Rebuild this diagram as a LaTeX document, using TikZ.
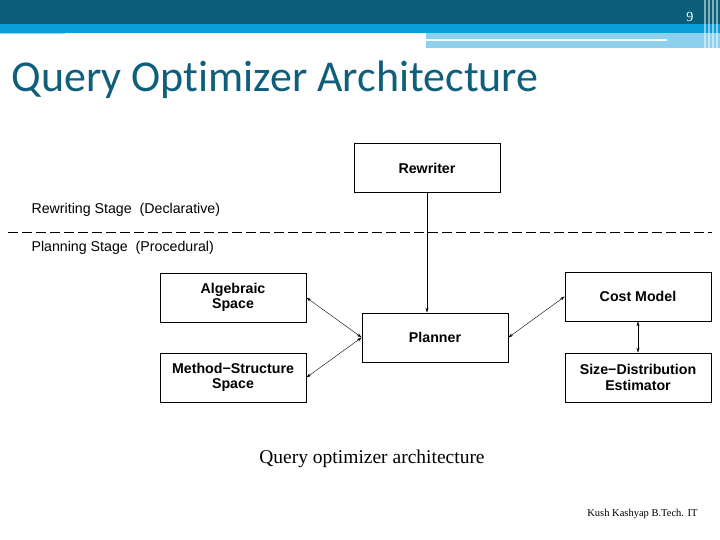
\documentclass[tikz,border=0pt]{standalone}
\usepackage{fontspec}
\usetikzlibrary{arrows.meta}
\setmainfont{Liberation Sans}
\newfontfamily\titlefont[RawFeature=-liga]{Carlito}
\newfontfamily\seriffont{Liberation Serif}
\definecolor{dark}{HTML}{0B5E79}
\definecolor{bright}{HTML}{0C9ED8}
\definecolor{light}{HTML}{8DD0EE}
\definecolor{ttl}{HTML}{0F5F7C}
\begin{document}
\begin{tikzpicture}[x=1pt,y=-1pt,
  box/.style={draw,line width=0.6pt,minimum width=146pt,minimum height=49pt,align=center,font=\bfseries\fontsize{14.2}{15.5}\selectfont,inner sep=0pt},
  arr/.style={{Stealth[length=5pt,width=3pt]}-{Stealth[length=5pt,width=3pt]},line width=0.4pt},
  lbl/.style={anchor=west,font=\fontsize{14.2}{15}\selectfont}]
\useasboundingbox (0,0) rectangle (720,540);
\fill[white] (0,0) rectangle (720,540);
% header
\fill[light] (426,33) rectangle (720,48);
\fill[white] (426,39) rectangle (667,41);
\fill[bright] (0,24) rectangle (720,33);
\fill[dark] (0,0) rectangle (720,24);
\fill[light] (0,33) rectangle (65,34);
\foreach \xx in {704,708,712,716}{\fill[white,opacity=0.5] (\xx,0) rectangle (\xx+1.5,48);}
\node[anchor=east,text=white,font=\seriffont\fontsize{14}{15}\selectfont] (pg) at (697,17) {9};
\node[anchor=west,text=ttl,font=\titlefont\fontsize{44}{46}\selectfont] (title) at (8,80) {Query Optimizer Architecture};
% diagram
\node[box] (rw) at (427,168) {Rewriter};
\node[box] (alg) at (233,297.5) {Algebraic\\Space};
\node[box] (ms) at (233,377.5) {Method\textminus Structure\\Space};
\node[box] (pl) at (435,337.5) {Planner};
\node[box] (cm) at (638,296.5) {Cost Model};
\node[box] (sd) at (638,377.5) {Size\textminus Distribution\\Estimator};
\node[lbl] (l1) at (28,210) {Rewriting Stage\ \ (Declarative)};
\node[lbl] (l2) at (28,248) {Planning Stage\ \ (Procedural)};
\coordinate (d1) at (8,232); \coordinate (d2) at (712,232);
\draw[line width=0.5pt,dash pattern=on 10pt off 4pt] (d1) -- (d2);
\draw[-{Stealth[length=5pt,width=3pt]},line width=0.4pt] (rw.south) -- (pl.north -| rw.south);
\draw[arr] (alg.east) -- (pl.west);
\draw[arr] (ms.east) -- (pl.west);
\draw[arr] (pl.east) -- (cm.west);
\draw[arr] (cm.south) -- (sd.north);
\node[font=\seriffont\fontsize{19.5}{21}\selectfont] (cap) at (372,459) {Query optimizer architecture};
\node[anchor=east,font=\seriffont\fontsize{10.5}{12}\selectfont] (ft) at (701,514) {Kush Kashyap B.Tech. IT};
\end{tikzpicture}
\end{document}
